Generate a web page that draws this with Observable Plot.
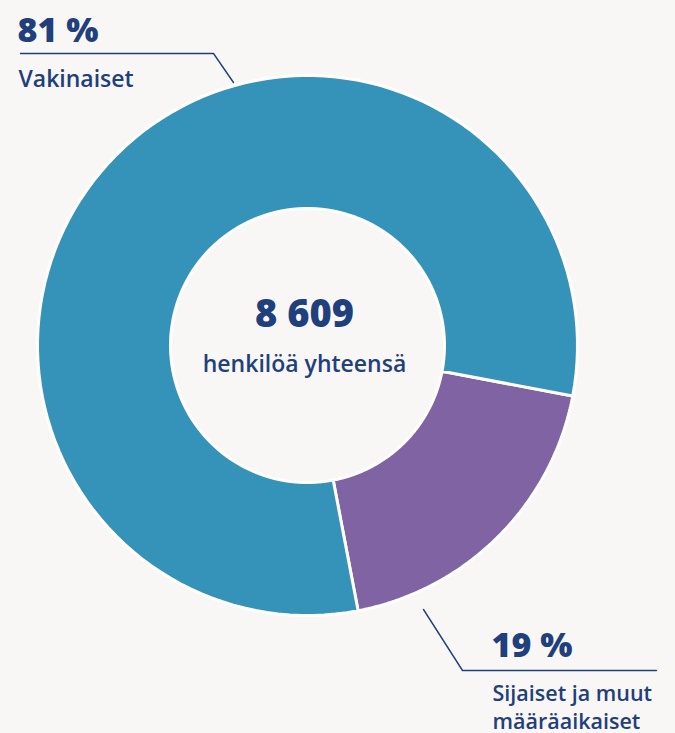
<!DOCTYPE html>
<html>
<head>
<meta charset="utf-8">
<script src="https://cdn.jsdelivr.net/npm/d3@7"></script>
<script src="https://cdn.jsdelivr.net/npm/@observablehq/plot@0.6"></script>
<style>
  html, body { margin: 0; padding: 0; background: #f8f7f5; }
  #chart svg { display: block; background: #f8f7f5; }
</style>
</head>
<body>
<div id="chart"></div>
<script>
// ---- data ----
const categories = ["Sijaiset ja muut määräaikaiset", "Vakinaiset"];
const shares = [19, 81];              // percent
const shareLabels = ["19 %", "81 %"];
const total = "8 609";
const totalLabel = "henkilöä yhteensä";
const colors = ["#7f63a2", "#3592b8"];

// ---- layout ----
const W = 675, H = 733;
const cx = 307, cy = 345, rOuter = 270, rInner = 137;
const startDeg = 100.8;
const ink = "#1f407c";

const pie = d3.pie().sort(null).value(d => d.value)
  .startAngle(startDeg * Math.PI / 180)
  .endAngle(startDeg * Math.PI / 180 + 2 * Math.PI);
const arcs = pie(categories.map((c, i) => ({category: c, value: shares[i]})));

// polygon points for each ring segment
const pts = [];
arcs.forEach(a => {
  const n = 120;
  for (let k = 0; k <= n; k++) {
    const t = a.startAngle + (a.endAngle - a.startAngle) * k / n;
    pts.push({category: a.data.category, x: cx + rOuter * Math.sin(t), y: cy - rOuter * Math.cos(t)});
  }
  for (let k = n; k >= 0; k--) {
    const t = a.startAngle + (a.endAngle - a.startAngle) * k / n;
    pts.push({category: a.data.category, x: cx + rInner * Math.sin(t), y: cy - rInner * Math.cos(t)});
  }
  pts.push({category: a.data.category, x: cx + rOuter * Math.sin(a.startAngle), y: cy - rOuter * Math.cos(a.startAngle)});
});

// leader lines (annotation layout)
const leaders = [
  {id: "top", x: 20, y: 53}, {id: "top", x: 213, y: 53}, {id: "top", x: 233, y: 82},
  {id: "bot", x: 423, y: 609}, {id: "bot", x: 462, y: 670}, {id: "bot", x: 656, y: 670}
];

const texts = [
  {text: shareLabels[1], x: 17, y: 41, size: 34, weight: 800, anchor: "start"},
  {text: categories[1], x: 18, y: 86, size: 23, weight: 600, anchor: "start"},
  {text: shareLabels[0], x: 491, y: 656, size: 34, weight: 800, anchor: "start"},
  {text: "Sijaiset ja muut\nmääräaikaiset", x: 492, y: 728, size: 21.5, weight: 600, anchor: "start", lh: 1.28},
  {text: total, x: cx - 3, y: 326, size: 38, weight: 800, anchor: "middle"},
  {text: totalLabel, x: cx - 3, y: 371, size: 23, weight: 600, anchor: "middle"}
];

const chart = Plot.plot({
  width: W, height: H,
  margin: 0,
  x: {domain: [0, W], range: [0, W], axis: null},
  y: {domain: [0, H], range: [0, H], axis: null},
  color: {domain: categories, range: colors},
  style: {fontFamily: "'Open Sans', sans-serif", background: "#f8f7f5"},
  marks: [
    Plot.line(pts, {x: "x", y: "y", z: "category", fill: "category", stroke: "white", strokeWidth: 3, strokeLinejoin: "miter", curve: "linear"}),
    Plot.line(leaders, {x: "x", y: "y", z: "id", stroke: ink, strokeWidth: 1.4}),
    ...texts.map(t => Plot.text([t], {
      x: "x", y: "y", text: "text", textAnchor: t.anchor, lineAnchor: "bottom",
      lineHeight: t.lh || 1,
      fontSize: t.size, fontWeight: t.weight, fill: ink
    }))
  ]
});
document.getElementById("chart").appendChild(chart);
</script>
</body>
</html>
